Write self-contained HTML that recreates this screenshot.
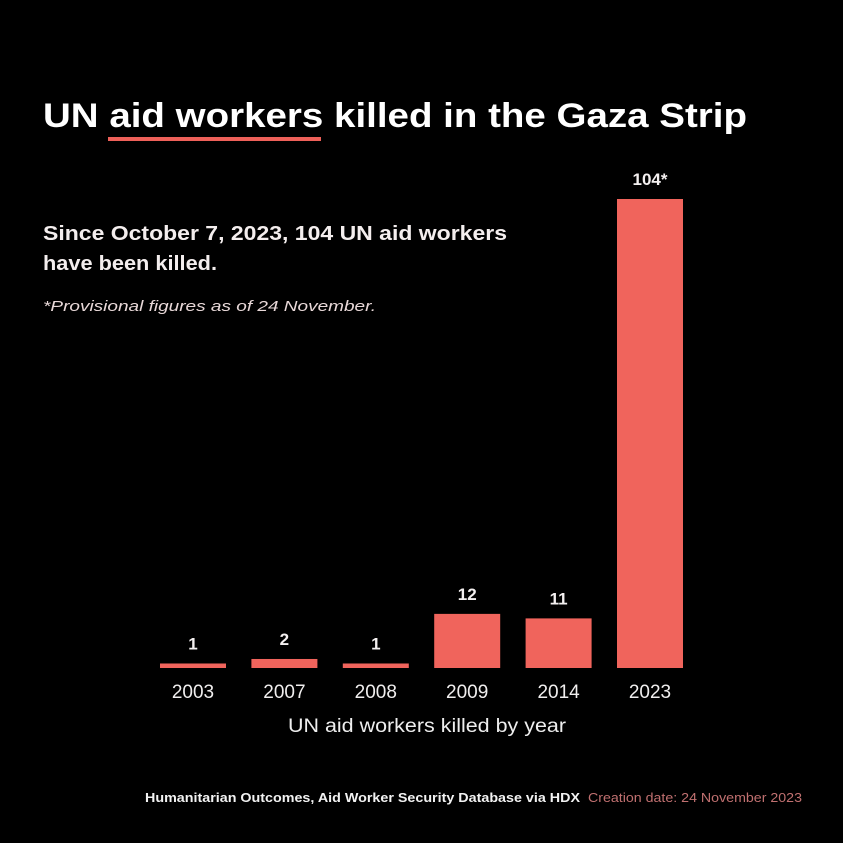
<!DOCTYPE html>
<html><head><meta charset="utf-8"><style>
html,body{margin:0;padding:0;background:#000;}
svg{display:block;font-family:"Liberation Sans",sans-serif;}
</style></head><body>
<svg width="843" height="843" viewBox="0 0 843 843">
<rect x="0" y="0" width="843" height="843" fill="#000"/>
<text x="43" y="127" font-size="34" font-weight="bold" fill="#fff" textLength="704" lengthAdjust="spacingAndGlyphs">UN aid workers killed in the Gaza Strip</text>
<rect x="108" y="137" width="213" height="4" fill="#ee6059"/>
<text x="43" y="240" font-size="20" font-weight="bold" fill="#f4eeee" textLength="464" lengthAdjust="spacingAndGlyphs">Since October 7, 2023, 104 UN aid workers</text>
<text x="43" y="270" font-size="20" font-weight="bold" fill="#f4eeee" textLength="174" lengthAdjust="spacingAndGlyphs">have been killed.</text>
<text x="43" y="311" font-size="15" font-style="italic" fill="#e8d8d8" textLength="333" lengthAdjust="spacingAndGlyphs">*Provisional figures as of 24 November.</text>
<g id="bars"></g>
<text x="427" y="732" font-size="19" fill="#eee" text-anchor="middle" textLength="278" lengthAdjust="spacingAndGlyphs">UN aid workers killed by year</text>
<text x="145" y="802" font-size="13" font-weight="bold" fill="#f2f2f2" textLength="435" lengthAdjust="spacingAndGlyphs">Humanitarian Outcomes, Aid Worker Security Database via HDX</text>
<text x="588" y="802" font-size="13" fill="#c07070" textLength="214" lengthAdjust="spacingAndGlyphs">Creation date: 24 November 2023</text>
</svg>
<script>
const categories = ["2003","2007","2008","2009","2014","2023"];
const values = [1,2,1,12,11,104];
const valueLabels = ["1","2","1","12","11","104*"];
const NS="http://www.w3.org/2000/svg";
const g=document.getElementById("bars");
const baseY=668, pxPerUnit=469/104, x0=160, step=91.4, bw=66;
function yScale(v){return baseY - v*pxPerUnit;}
function xScale(i){return x0 + i*step;}
categories.forEach((c,i)=>{
  const x=xScale(i), y=yScale(values[i]);
  const r=document.createElementNS(NS,"rect");
  r.setAttribute("x",x);r.setAttribute("y",y);r.setAttribute("width",bw);r.setAttribute("height",baseY-y);
  r.setAttribute("fill","#f0645c");
  
  
  g.appendChild(r);
  const t=document.createElementNS(NS,"text");
  t.setAttribute("x",x+bw/2);t.setAttribute("y",y-14);t.setAttribute("text-anchor","middle");
  t.setAttribute("font-size","17");t.setAttribute("font-weight","bold");t.setAttribute("fill","#f4f0f0");
  t.textContent=valueLabels[i];
  
  
  g.appendChild(t);
  const l=document.createElementNS(NS,"text");
  l.setAttribute("x",x+bw/2);l.setAttribute("y",698);l.setAttribute("text-anchor","middle");
  l.setAttribute("font-size","19");l.setAttribute("fill","#f0eeee");
  l.textContent=c;
  
  
  g.appendChild(l);
});
</script>
</body></html>
